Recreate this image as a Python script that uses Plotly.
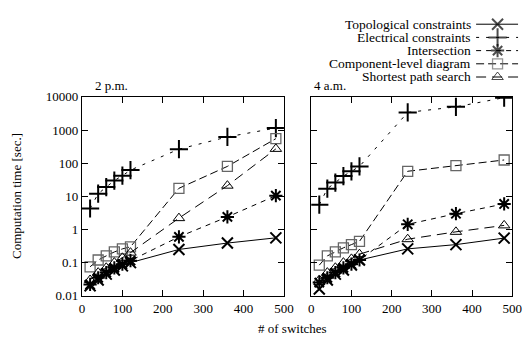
import plotly.graph_objects as go

# ---------------- data ----------------
switches = [20, 40, 60, 80, 100, 120, 240, 360, 480]

series_names = ["Topological constraints", "Electrical constraints", "Intersection",
                "Component-level diagram", "Shortest path search"]

# 2 p.m.
topo_pm = [0.02, 0.03, 0.045, 0.06, 0.08, 0.1, 0.25, 0.39, 0.56]
elec_pm = [4.3, 12, 19, 30, 42, 62, 265, 620, 1150]
inter_pm = [0.022, 0.035, 0.05, 0.07, 0.09, 0.115, 0.6, 2.4, 10.5]
comp_pm = [0.075, 0.12, 0.16, 0.21, 0.26, 0.3, 17.5, 80, 550]
short_pm = [0.03, 0.05, 0.07, 0.1, 0.14, 0.2, 2.2, 21, 270]

# 4 a.m.
topo_am = [0.016, 0.03, 0.045, 0.06, 0.085, 0.12, 0.26, 0.35, 0.55]
elec_am = [5.6, 17, 26, 41, 57, 80, 3400, 5000, 9500]
inter_am = [0.025, 0.035, 0.05, 0.07, 0.09, 0.12, 1.43, 3.0, 5.9]
comp_am = [0.084, 0.16, 0.21, 0.28, 0.35, 0.44, 57, 84, 125]
short_am = [0.03, 0.05, 0.07, 0.1, 0.13, 0.18, 0.51, 0.85, 1.33]

panel_titles = ["2 p.m.", "4 a.m."]
x_ticks = [0, 100, 200, 300, 400, 500]
y_ticks = [0.01, 0.1, 1, 10, 100, 1000, 10000]
y_tick_text = ["0.01", "0.1", "1", "10", "100", "1000", "10000"]

# ---------------- styles ----------------
FONT = "Liberation Serif"
W, H = 530, 343
styles = [
    dict(symbol="x-thin-open", size=11, mcolor="black", mlw=2.0, dash="solid"),
    dict(symbol="cross-thin-open", size=13, mcolor="black", mlw=2.0, dash="3px,7px"),
    dict(symbol="asterisk-open", size=11, mcolor="black", mlw=2.0, dash="5px,5px"),
    dict(symbol="square-open", size=10, mcolor="#666666", mlw=1.3, dash="8px,4px"),
    dict(symbol="triangle-up-open", size=10, mcolor="black", mlw=1.0, dash="10px,6px"),
]

pm = [topo_pm, elec_pm, inter_pm, comp_pm, short_pm]
am = [topo_am, elec_am, inter_am, comp_am, short_am]

fig = go.Figure()

for data, xa, ya in [(pm, "x", "y"), (am, "x2", "y2")]:
    for vals, st, name in zip(data, styles, series_names):
        fig.add_trace(go.Scatter(
            x=switches, y=vals, xaxis=xa, yaxis=ya, mode="lines+markers", name=name,
            showlegend=False,
            line=dict(color="black", width=1, dash=st["dash"]),
            marker=dict(symbol=st["symbol"], size=st["size"], color=st["mcolor"],
                        line=dict(color=st["mcolor"], width=st["mlw"])),
        ))

# ---------------- custom gnuplot-style key (text left, sample right) ----------------
key_text_right = 482
key_line = (485, 528)
key_marker_x = 507
key_top, key_step = 18, 13.8
for i, (st, name) in enumerate(zip(styles, series_names)):
    yy = key_top + i * key_step
    fig.add_trace(go.Scatter(
        x=[key_line[0], key_marker_x, key_line[1]], y=[yy, yy, yy],
        xaxis="x3", yaxis="y3", mode="lines+markers", showlegend=False, hoverinfo="skip",
        line=dict(color="black", width=1, dash=st["dash"]),
        marker=dict(symbol=st["symbol"], size=[0, st["size"], 0], color=st["mcolor"],
                    line=dict(color=st["mcolor"], width=st["mlw"])),
    ))
    fig.add_annotation(x=key_text_right / W, y=1 - yy / H, xref="paper", yref="paper",
                       text=name, showarrow=False, xanchor="right", yanchor="middle",
                       font=dict(family=FONT, size=13.5, color="black"))

# panel titles
for title, px in zip(panel_titles, [92, 317]):
    fig.add_annotation(x=px / W, y=1 - 82 / H, xref="paper", yref="paper", text=title,
                       showarrow=False, xanchor="left", yanchor="middle",
                       font=dict(family=FONT, size=13, color="black"))

# axis titles
fig.add_annotation(x=14 / W, y=1 - 198 / H, xref="paper", yref="paper",
                   text="Computation time [sec.]", textangle=-90, showarrow=False,
                   xanchor="center", yanchor="middle",
                   font=dict(family=FONT, size=13, color="black"))
fig.add_annotation(x=297 / W, y=1 - 336 / H, xref="paper", yref="paper",
                   text="# of switches", showarrow=False, xanchor="center", yanchor="middle",
                   font=dict(family=FONT, size=13, color="black"))

minor_vals = []
for d in [0.01, 0.1, 1, 10, 100, 1000]:
    minor_vals += [2 * d, 5 * d]

y_dom = [1 - 302 / H, 1 - 94 / H]
xd1 = [81 / W, 288 / W]
xd2 = [316 / W, 522 / W]

tickfont = dict(family=FONT, size=13, color="black")
common_x = dict(range=[0, 500], tickvals=x_ticks, ticks="inside", ticklen=6, tickwidth=1,
                showline=True, linecolor="black", linewidth=1.3, mirror="ticks",
                showgrid=False, zeroline=False, tickcolor="black", tickfont=tickfont)
common_y = dict(type="log", range=[-2, 4], tickvals=y_ticks, ticktext=y_tick_text,
                ticks="inside", ticklen=6, tickwidth=1, tickcolor="black",
                showline=True, linecolor="black", linewidth=1.3, mirror="ticks",
                showgrid=False, zeroline=False, domain=y_dom, tickfont=tickfont)
minor_y = dict(type="log", range=[-2, 4], tickvals=minor_vals, ticks="inside", ticklen=3,
               tickwidth=1, tickcolor="black", showticklabels=False, showline=False,
               mirror="ticks", showgrid=False, zeroline=False, domain=y_dom)

fig.update_layout(
    width=W, height=H, margin=dict(l=0, r=0, t=0, b=0),
    paper_bgcolor="white", plot_bgcolor="rgba(0,0,0,0)", showlegend=False,
    xaxis=dict(domain=xd1, anchor="y", **common_x),
    yaxis=dict(anchor="x", **common_y),
    xaxis2=dict(domain=xd2, anchor="y2", **common_x),
    yaxis2=dict(anchor="x2", showticklabels=False, **common_y),
    yaxis4=dict(anchor="x", overlaying="y", **minor_y),
    yaxis5=dict(anchor="x2", overlaying="y2", **minor_y),
    xaxis3=dict(domain=[0, 1], range=[0, W], anchor="y3", visible=False, fixedrange=True),
    yaxis3=dict(domain=[0, 1], range=[H, 0], anchor="x3", visible=False, fixedrange=True),
)

fig.write_html("out.html", config={"displayModeBar": False},
               post_script="document.body.style.margin='0';")
